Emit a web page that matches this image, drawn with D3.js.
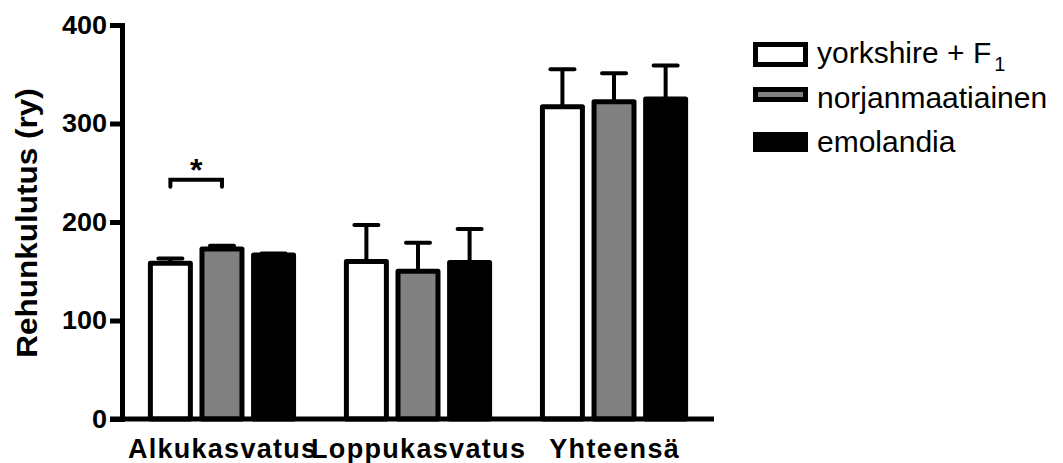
<!DOCTYPE html>
<html>
<head>
<meta charset="utf-8">
<script src="https://cdn.jsdelivr.net/npm/d3@7"></script>
<style>
  body { margin: 0; background: #fff; }
  svg { display: block; font-family: "Liberation Sans", Arial, sans-serif; }
</style>
</head>
<body>
<div id="chart"></div>
<script>
// groups on the x axis
var groups = ["Alkukasvatus", "Loppukasvatus", "Yhteensä"];
// series (breeds) with their means and upper error (SEM)
var seriesNames = ["yorkshire + F", "norjanmaatiainen", "emolandia"];
var seriesSub = ["1", "", ""];
var yorkshireMean = [158, 160, 317];
var yorkshireErr = [5, 37, 38];
var norjanMean = [172.5, 150, 322];
var norjanErr = [3.5, 29, 29];
var emolandiaMean = [166.5, 159, 325];
var emolandiaErr = [1.5, 34, 34];
var yTicks = [0, 100, 200, 300, 400];
// significance bracket: group, series from/to, height in y units
var sigGroup = ["Alkukasvatus"];
var sigFrom = [0];
var sigTo = [1];
var sigLevel = [243];
var sigLabel = ["*"];

var fills = ["#ffffff", "#808080", "#000000"];

var width = 1063, height = 463;
var svg = d3.select("#chart").append("svg")
    .attr("width", width).attr("height", height);

var means = [yorkshireMean, norjanMean, emolandiaMean];
var errs = [yorkshireErr, norjanErr, emolandiaErr];
var data = [];
groups.forEach(function(g, gi) {
    seriesNames.forEach(function(s, si) {
        data.push({group: g, si: si, mean: means[si][gi], err: errs[si][gi]});
    });
});

var y = d3.scaleLinear().domain([0, 400]).range([419, 25]);
var x0 = d3.scalePoint().domain(groups).range([122, 714]).padding(0.51);
var x1 = d3.scaleBand().domain(d3.range(seriesNames.length))
    .range([-77.4, 77.4]).paddingInner(0.225).paddingOuter(0.1125);

// stretch the bold labels a bit, they look wide in the original
function widen(sel, k, mode) {
    sel.each(function() {
        d3.select(this).attr("textLength", this.getComputedTextLength() * k)
            .attr("lengthAdjust", mode);
    });
}

// y axis
var yAxis = svg.append("g").attr("transform", "translate(122,0)")
    .call(d3.axisLeft(y).tickValues(yTicks).tickSize(12).tickPadding(3));
yAxis.select(".domain").attr("stroke", "#000").attr("stroke-width", 5);
yAxis.selectAll(".tick line").attr("stroke", "#000").attr("stroke-width", 5);
yAxis.selectAll(".tick text")
    .attr("font-family", "'Liberation Sans', Arial, sans-serif")
    .attr("font-size", 25).attr("font-weight", "bold").attr("fill", "#000")
    .call(widen, 1.08, "spacingAndGlyphs");

// y title
svg.append("text")
    .attr("transform", "translate(37,223) rotate(-90)")
    .attr("text-anchor", "middle")
    .attr("font-size", 30).attr("font-weight", "bold")
    .text("Rehunkulutus (ry)")
    .call(widen, 1.05, "spacingAndGlyphs");

// bars
var bar = svg.append("g").selectAll("g.bar").data(data).enter().append("g");
bar.append("rect")
    .attr("x", function(d) { return x0(d.group) + x1(d.si); })
    .attr("width", x1.bandwidth())
    .attr("y", function(d) { return y(d.mean); })
    .attr("height", function(d) { return y(0) - y(d.mean); })
    .attr("fill", function(d) { return fills[d.si]; })
    .attr("stroke", "#000").attr("stroke-width", 5)
    .attr("stroke-linejoin", "round");

// error bars (upper only)
bar.append("line")
    .attr("x1", function(d) { return x0(d.group) + x1(d.si) + x1.bandwidth() / 2; })
    .attr("x2", function(d) { return x0(d.group) + x1(d.si) + x1.bandwidth() / 2; })
    .attr("y1", function(d) { return y(d.mean); })
    .attr("y2", function(d) { return y(d.mean + d.err); })
    .attr("stroke", "#000").attr("stroke-width", 4);
bar.append("line")
    .attr("x1", function(d) { return x0(d.group) + x1(d.si) + x1.bandwidth() / 2 - 12; })
    .attr("x2", function(d) { return x0(d.group) + x1(d.si) + x1.bandwidth() / 2 + 12; })
    .attr("y1", function(d) { return y(d.mean + d.err); })
    .attr("y2", function(d) { return y(d.mean + d.err); })
    .attr("stroke", "#000").attr("stroke-width", 4).attr("stroke-linecap", "round");

// x axis line
svg.append("line")
    .attr("x1", 110).attr("x2", x0.range()[1])
    .attr("y1", y(0)).attr("y2", y(0))
    .attr("stroke", "#000").attr("stroke-width", 5);

// x labels
svg.append("g").selectAll("text").data(groups).enter().append("text")
    .attr("x", function(d) { return x0(d); })
    .attr("y", 458)
    .attr("text-anchor", "middle")
    .attr("font-size", 27).attr("font-weight", "bold")
    .text(function(d) { return d; })
    .call(widen, 1.08, "spacing");

// significance bracket
sigGroup.forEach(function(g, i) {
    var xa = x0(g) + x1(sigFrom[i]) + x1.bandwidth() / 2;
    var xb = x0(g) + x1(sigTo[i]) + x1.bandwidth() / 2;
    var yl = y(sigLevel[i]);
    svg.append("path")
        .attr("d", "M" + xa + "," + (yl + 7) + "V" + yl + "H" + xb + "V" + (yl + 7))
        .attr("fill", "none").attr("stroke", "#000").attr("stroke-width", 4)
        .attr("stroke-linecap", "round");
    svg.append("text")
        .attr("x", (xa + xb) / 2).attr("y", yl + 1)
        .attr("text-anchor", "middle")
        .attr("font-size", 32).attr("font-weight", "bold")
        .text(sigLabel[i]);
});

// legend
var legendBoxH = [20, 10, 15];
var legendRowY = [44.5, 89.5, 134.5];
var legendBaseline = [63, 108, 152];
var legend = svg.append("g").selectAll("g").data(seriesNames).enter().append("g");
legend.append("rect")
    .attr("x", 755.5).attr("width", 50)
    .attr("y", function(d, i) { return legendRowY[i]; })
    .attr("height", function(d, i) { return legendBoxH[i]; })
    .attr("fill", function(d, i) { return fills[i]; })
    .attr("stroke", "#000").attr("stroke-width", 5);
var lt = legend.append("text")
    .attr("x", 817)
    .attr("y", function(d, i) { return legendBaseline[i]; })
    .attr("font-size", 30);
lt.append("tspan").text(function(d) { return d; });
lt.append("tspan")
    .attr("font-size", 20).attr("dx", 3).attr("dy", 8)
    .text(function(d, i) { return seriesSub[i]; });
</script>
</body>
</html>
